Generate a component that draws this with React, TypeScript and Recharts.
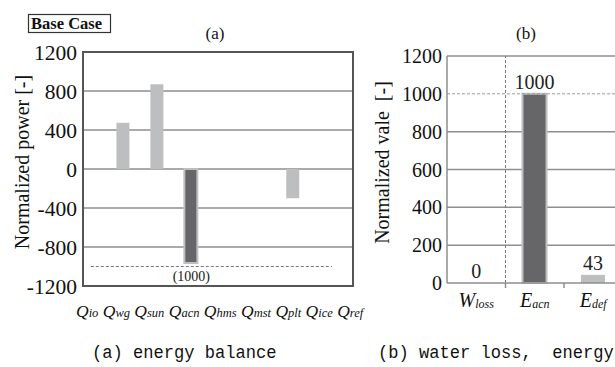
import React from 'react';
import {
  BarChart,
  Bar,
  XAxis,
  YAxis,
  CartesianGrid,
  ReferenceLine,
  ReferenceArea,
  ReferenceDot,
  Cell,
  LabelList,
} from 'recharts';

// ---------- data: (a) energy balance ----------
const balanceCategories = ['Qio', 'Qwg', 'Qsun', 'Qacn', 'Qhms', 'Qmst', 'Qplt', 'Qice', 'Qref'];
const balanceValues = [0, 475, 870, -965, 0, 0, -300, 0, 0];
const balanceTicks = [-1200, -800, -400, 0, 400, 800, 1200];
const balanceRefValue = -1000;
const balanceRefLabel = '(1000)';
const balanceHighlight = 'Qacn';

// ---------- data: (b) water loss, energy ----------
const lossCategories = ['Wloss', 'Eacn', 'Edef'];
const lossValues = [0, 1000, 43];
const lossTicks = [0, 200, 400, 600, 800, 1000, 1200];
const lossRefValue = 1000;
const lossHighlight = 'Eacn';

const serif = '"Liberation Serif", "Times New Roman", serif';
const mono = '"Liberation Mono", "Courier New", monospace';
const LIGHT = '#bdbec0';
const DARK = '#666668';
const GRID = '#8e8e8e';
const FRAME = '#555555';

const dataA = balanceCategories.map((name, i) => ({ name, idx: i, value: balanceValues[i] }));
const dataB = lossCategories.map((name, i) => ({ name, value: lossValues[i] }));

// chart (b) geometry
const B_WIDTH = 280;
const B_YAXIS = 87;
const B_RIGHT = 17.5;
const B_BAND = (B_WIDTH - B_YAXIS - B_RIGHT) / lossCategories.length;

const serifStyle = { fontFamily: serif };
const valueLabelStyle = { fontSize: 20, fontFamily: serif, style: serifStyle, fill: '#222' };

const renderBalanceLabels = (props: any) => {
  const vb = props.viewBox || { x: 83, y: 286 };
  return (
    <text
      x={76}
      y={vb.y + 31}
      fontFamily={serif}
      fontStyle="italic"
      fill="#111"
      style={{ whiteSpace: 'pre', fontFamily: serif }}
    >
      {balanceCategories.map((c, i) => (
        <React.Fragment key={c}>
          <tspan fontSize={17.5}>{(i > 0 ? ' ' : '') + c[0]}</tspan>
          <tspan fontSize={12.5}>{c.slice(1)}</tspan>
        </React.Fragment>
      ))}
    </text>
  );
};

const makeYTitle = (text: string, x: number) => (props: any) => {
  const vb = props.viewBox || { x: 0, y: 0, width: 0, height: 0 };
  const cy = vb.y + vb.height / 2 - 7;
  return (
    <text
      x={x}
      y={cy}
      transform={`rotate(-90 ${x} ${cy})`}
      textAnchor="middle"
      dy={7}
      fontFamily={serif}
      fontSize={20}
      fill="#111"
      style={{ whiteSpace: 'pre', fontFamily: serif }}
    >
      {text}
    </text>
  );
};

const makeYTick = (size: number) => (props: any) => {
  const { x, y, payload } = props;
  return (
    <text
      x={x}
      y={y}
      dy={size * 0.35}
      textAnchor="end"
      fontFamily={serif}
      fontSize={size}
      fill="#111"
      style={serifStyle}
    >
      {payload.value}
    </text>
  );
};

const renderLossTick = (props: any) => {
  const { x, y, payload, index } = props;
  const name: string = String(payload.value);
  return (
    <g>
      {index > 0 && (
        <line x1={x - B_BAND / 2} x2={x - B_BAND / 2} y1={y} y2={y + 5} stroke={GRID} strokeWidth={1.5} />
      )}
      <text
        x={x}
        y={y}
        dy={24}
        textAnchor="middle"
        fontFamily={serif}
        fontStyle="italic"
        fill="#111"
        style={serifStyle}
      >
        <tspan fontSize={20}>{name[0]}</tspan>
        <tspan fontSize={12} dy={1}>{name.slice(1)}</tspan>
      </text>
    </g>
  );
};

export default function App() {
  return (
    <div
      style={{
        position: 'absolute',
        left: 0,
        top: 0,
        width: 615,
        height: 367,
        overflow: 'hidden',
        background: '#fff',
      }}
    >
      {/* (a) energy balance */}
      <div style={{ position: 'absolute', left: 0, top: 0 }}>
        <BarChart
          width={370}
          height={367}
          data={dataA}
          margin={{ top: 52, right: 17, bottom: 51, left: 0 }}
        >
          <CartesianGrid vertical={false} stroke={GRID} strokeWidth={1.5} />
          <XAxis
            type="number"
            dataKey="idx"
            domain={[-0.19, 7.76]}
            allowDataOverflow
            tick={false}
            tickLine={false}
            axisLine={false}
            height={30}
            label={renderBalanceLabels}
          />
          <YAxis
            type="number"
            domain={[-1200, 1200]}
            ticks={balanceTicks}
            interval={0}
            width={83}
            tickLine={false}
            axisLine={false}
            tickSize={6}
            tickMargin={0}
            tick={makeYTick(21.5)}
            label={makeYTitle('Normalized power [-]', 22)}
          />
          <ReferenceLine
            segment={[
              { x: 0.04, y: balanceRefValue },
              { x: 7.14, y: balanceRefValue },
            ]}
            stroke="#777"
            strokeWidth={1}
            strokeDasharray="3 2"
          />
          <ReferenceDot
            x={3}
            y={balanceRefValue}
            r={0}
            fill="none"
            stroke="none"
            label={{
              value: balanceRefLabel,
              position: 'bottom',
              offset: 5,
              fontSize: 14,
              fontFamily: serif,
              style: serifStyle,
              fill: '#222',
            }}
          />
          <Bar dataKey="value" barSize={13} isAnimationActive={false}>
            {dataA.map((d) => (
              <Cell
                key={d.name}
                fill={d.name === balanceHighlight ? DARK : LIGHT}
                stroke={d.name === balanceHighlight ? LIGHT : 'none'}
                strokeWidth={d.name === balanceHighlight ? 2 : 0}
              />
            ))}
          </Bar>
          <ReferenceArea
            x1={-0.19}
            x2={7.76}
            y1={-1200}
            y2={1200}
            fill="none"
            fillOpacity={0}
            stroke={FRAME}
            strokeWidth={2}
          />
        </BarChart>
      </div>

      {/* (b) water loss, energy */}
      <div style={{ position: 'absolute', left: 360, top: 0 }}>
        <BarChart
          width={B_WIDTH}
          height={367}
          data={dataB}
          margin={{ top: 56, right: B_RIGHT, bottom: 54, left: 0 }}
        >
          <CartesianGrid
            vertical={false}
            horizontalValues={[200, 400, 600, 800, 1200]}
            stroke={GRID}
            strokeWidth={1.5}
          />
          <XAxis
            dataKey="name"
            height={30}
            interval={0}
            tickLine={false}
            tickSize={0}
            tickMargin={0}
            axisLine={{ stroke: GRID, strokeWidth: 1.5 }}
            tick={renderLossTick}
          />
          <YAxis
            type="number"
            domain={[0, 1200]}
            ticks={lossTicks}
            interval={0}
            width={B_YAXIS}
            tickLine={false}
            tickSize={5}
            tickMargin={0}
            axisLine={{ stroke: GRID, strokeWidth: 1.5 }}
            tick={makeYTick(20)}
            label={makeYTitle('Normalized vale  [-]', 22)}
          />
          <ReferenceLine y={lossRefValue} stroke="#9a9a9a" strokeWidth={1} strokeDasharray="3 2" />
          <ReferenceLine x={lossHighlight} position="start" stroke="#777" strokeWidth={1} strokeDasharray="3 2" />
          <Bar dataKey="value" barSize={24} isAnimationActive={false}>
            {dataB.map((d) => (
              <Cell
                key={d.name}
                fill={d.name === lossHighlight ? DARK : LIGHT}
                stroke={d.name === lossHighlight ? LIGHT : 'none'}
                strokeWidth={d.name === lossHighlight ? 2 : 0}
              />
            ))}
            <LabelList dataKey="value" position="top" offset={5} {...valueLabelStyle} />
          </Bar>
          {/* zero-valued bars draw no rect, so their value label is placed via a dot at the value */}
          {dataB
            .filter((d) => d.value === 0)
            .map((d) => (
              <ReferenceDot
                key={d.name}
                x={d.name}
                y={d.value}
                r={0}
                fill="none"
                stroke="none"
                label={{ value: String(d.value), position: 'top', offset: 5, ...valueLabelStyle }}
              />
            ))}
        </BarChart>
      </div>

      {/* titles and captions */}
      <svg
        width={615}
        height={367}
        style={{ position: 'absolute', left: 0, top: 0, pointerEvents: 'none' }}
      >
        <rect x={28.5} y={14.5} width={82} height={18} fill="#fff" stroke="#333" strokeWidth={1.2} />
        <text x={31} y={28.5} fontFamily={serif} fontWeight="bold" fontSize={16.5} fill="#111">
          Base Case
        </text>
        <text x={215} y={39} textAnchor="middle" fontFamily={serif} fontSize={17} fill="#111">
          (a)
        </text>
        <text x={526} y={39} textAnchor="middle" fontFamily={serif} fontSize={17} fill="#111">
          (b)
        </text>
        <g transform="translate(92 358) scale(0.9 1)">
          <text x={0} y={0} fontFamily={mono} fontSize={19} fill="#111" style={{ whiteSpace: 'pre' }}>
            (a) energy balance
          </text>
        </g>
        <g transform="translate(378 358) scale(0.9 1)">
          <text x={0} y={0} fontFamily={mono} fontSize={19} fill="#111" style={{ whiteSpace: 'pre' }}>
            (b) water loss,  energy
          </text>
        </g>
      </svg>
    </div>
  );
}
